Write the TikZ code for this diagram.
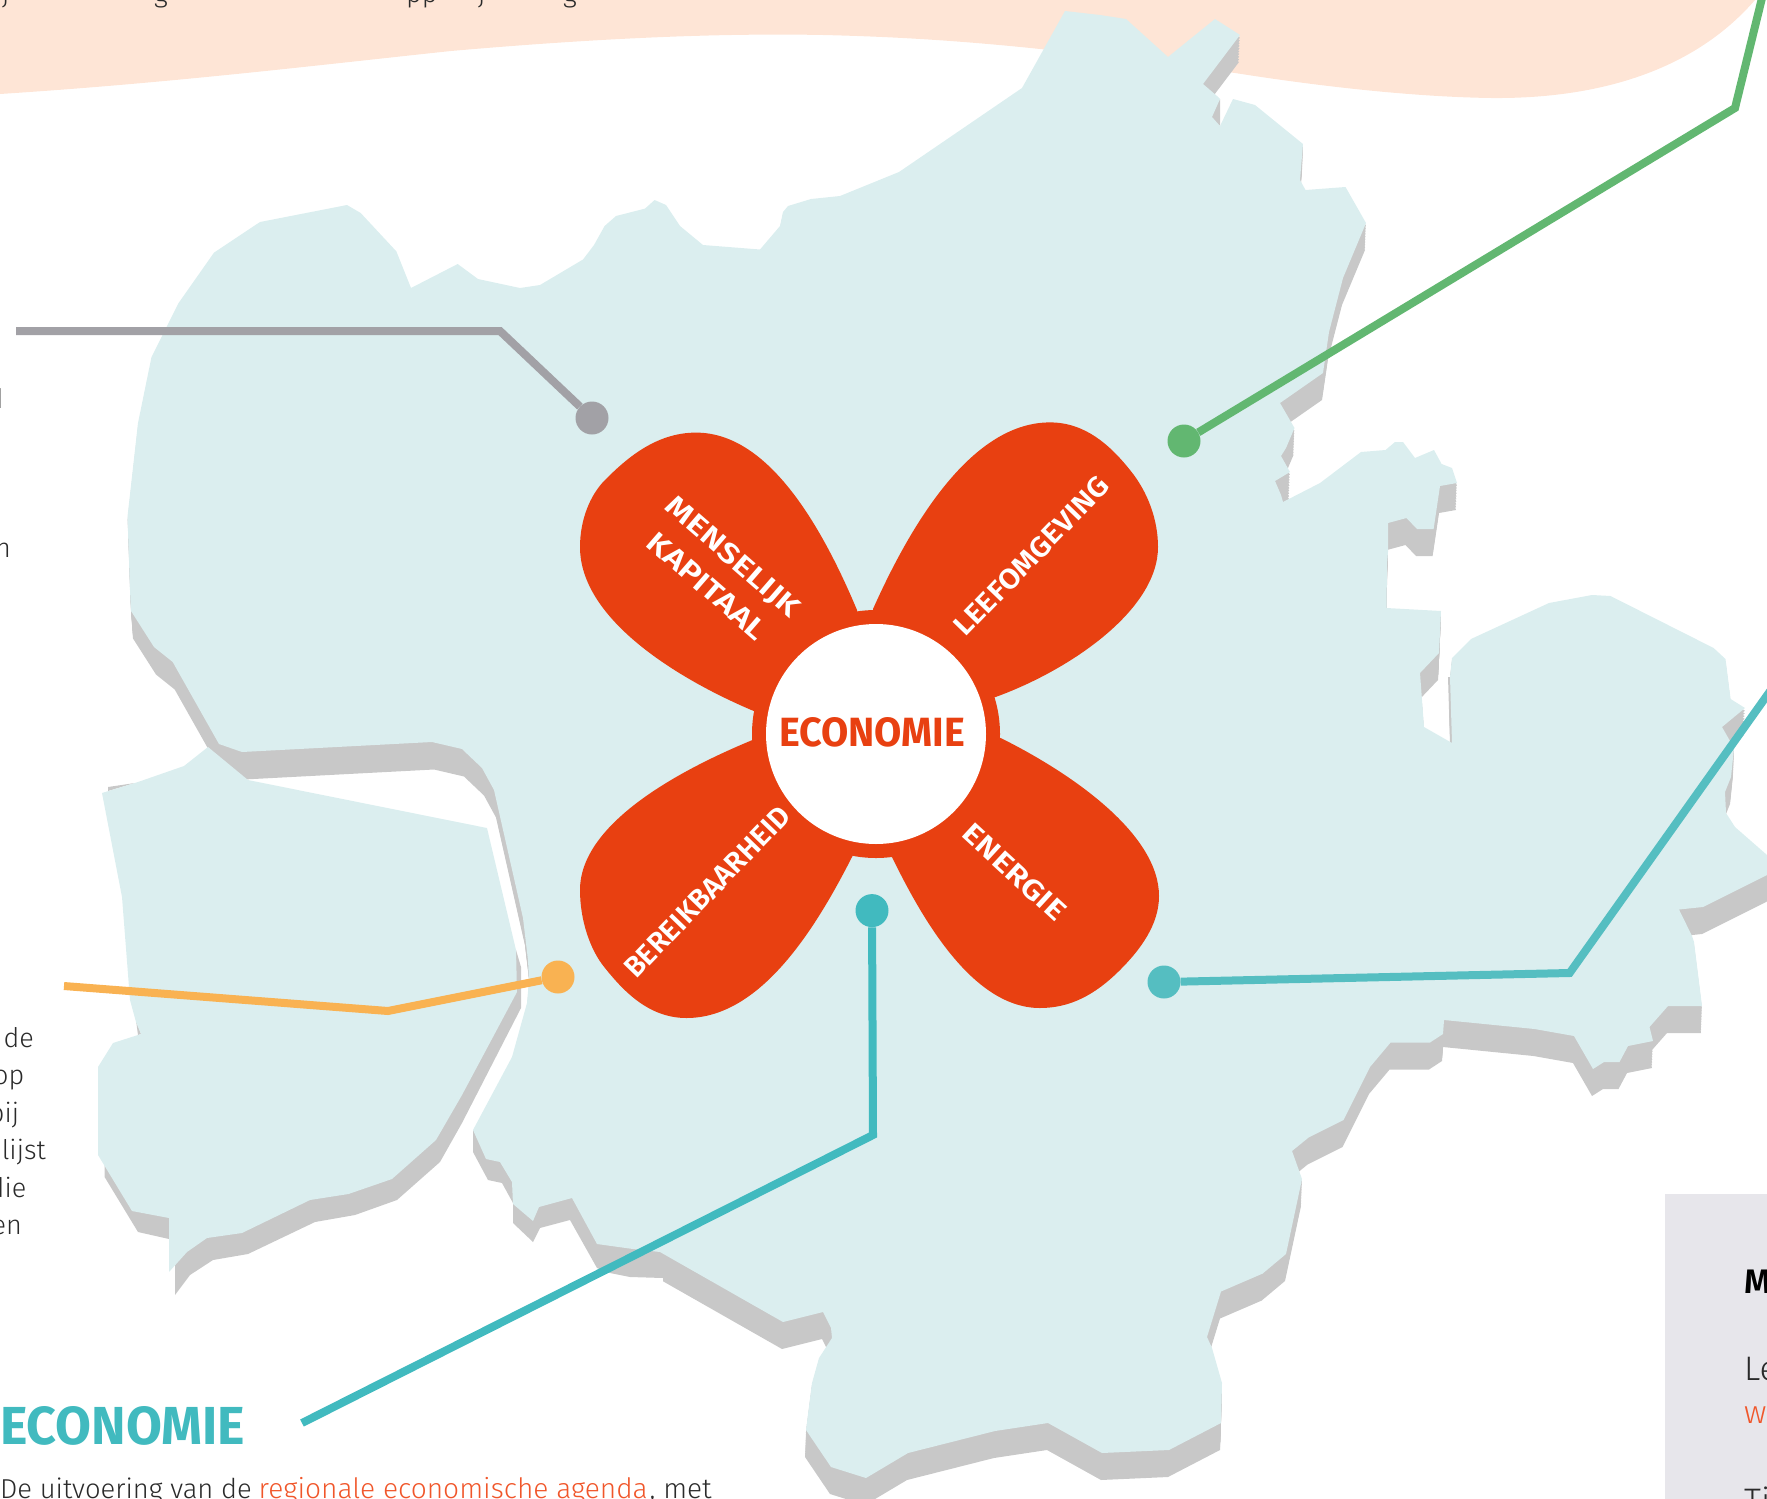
\documentclass[tikz,border=0pt]{standalone}
\usepackage{fontspec}
\usepackage{graphicx}
\setmainfont{Fira Sans Light}[BoldFont={Fira Sans SemiBold}]
\newfontfamily\headfont{Fira Sans Bold}
\definecolor{peachc}{HTML}{FEE5D6}
\definecolor{landc}{HTML}{DBEEEF}
\definecolor{shadowc}{HTML}{C8C8C8}
\definecolor{flowerc}{HTML}{E84011}
\definecolor{boxc}{HTML}{E7E6EB}
\definecolor{greyc}{HTML}{A2A1A6}
\definecolor{greenc}{HTML}{62B771}
\definecolor{tealc}{HTML}{41BABF}
\definecolor{teallc}{HTML}{55BEC1}
\definecolor{orangec}{HTML}{F9B252}
\definecolor{inkc}{HTML}{2A2A2A}
\definecolor{linkc}{HTML}{F0562A}
\newcommand{\mainland}{(1065,11) -- (1100,15) -- (1126,19) -- (1168,57) -- (1215,19) -- (1240,35) -- (1203,84) -- (1217,96) -- (1220,99) -- (1212,117) -- (1220,126) -- (1233,99) -- (1255,105) -- (1303,144) -- (1300,180) -- (1305.5,190) -- (1345.5,187) -- (1366,223) -- (1343,278) -- (1329,332) -- (1323,373) -- (1280,403) -- (1294.5,428) -- (1286,448) -- (1281,456) -- (1290,472) -- (1275,481) -- (1281,495) -- (1283,502) -- (1320,483) -- (1361,452) -- (1385.5,450) -- (1395,442) -- (1403,442) -- (1415,458) -- (1434,450) -- (1441.6,464) -- (1452,468) -- (1457,483) -- (1440,486) -- (1433.6,529) -- (1417,529) -- (1406.5,518) -- (1388,523) -- (1388,552) -- (1387,564) -- (1386.5,608) -- (1441,611) -- (1439,653) -- (1420,673) -- (1424,727) -- (1452,743) -- (1450,677) -- (1452,658) -- (1471,639) -- (1549,603) -- (1592,595) -- (1610.5,596) -- (1713.6,648) -- (1725.5,659) -- (1730.6,699) -- (1745,708) -- (1722,727) -- (1734,748) -- (1731,777) -- (1725,792) -- (1726,813) -- (1735,827) -- (1767,855) -- (1780,866) -- (1767,875) -- (1703,907) -- (1679,909.5) -- (1692,936) -- (1694,942) -- (1702,1006) -- (1668,1006) -- (1649.5,1027) -- (1653,1041) -- (1628,1046) -- (1619.5,1062) -- (1604,1062) -- (1593,1069) -- (1574,1036) -- (1534.5,1029) -- (1444,1020) -- (1443,1034) -- (1430,1042.5) -- (1390.6,1042.5) -- (1370,1067) -- (1343.6,1120) -- (1308.5,1137.6) -- (1292,1151) -- (1302,1179) -- (1286,1254) -- (1262.6,1273.6) -- (1221,1291.5) -- (1207,1337) -- (1212,1348) -- (1222,1383) -- (1221,1423) -- (1169,1450) -- (1102,1453) -- (1048,1423) -- (995,1431) -- (908,1453) -- (866,1478) -- (831,1467) -- (806,1430) -- (812,1383) -- (819,1358) -- (832,1338) -- (831,1328) -- (823,1312) -- (783,1322) -- (660,1252) -- (633,1249) -- (597,1244) -- (572,1198) -- (539,1207) -- (533,1221) -- (513,1204) -- (512,1182) -- (500,1162) -- (486,1159) -- (473,1130) -- (512,1057) -- (527,1003) -- (529,980) -- (528,960) -- (523,918) -- (494,790) -- (482,768) -- (462,749) -- (432,742) -- (242,752) -- (219,744) -- (172.7,662) -- (154,647) -- (131,611) -- (130,590) -- (127.5,516.6) -- (138,423) -- (151.5,357) -- (178.6,303) -- (214,252.6) -- (260,222) -- (347,205) -- (360.7,213) -- (396.4,251.4) -- (411,288) -- (457.7,264) -- (478,279) -- (520,288) -- (540,285) -- (583,259.5) -- (594,245) -- (604.6,226) -- (616,216) -- (645,208.6) -- (654.6,200) -- (666,205) -- (680,226) -- (703,245) -- (760,249.5) -- (780,226) -- (783,212) -- (788,206) -- (811,199) -- (840,196) -- (899,172) -- (1022,88) -- cycle}
\tikzset{
  landfill/.style={fill=landc,draw=none},
  shadowfill/.style={fill=shadowc,draw=none},
  petalfill/.style={fill=flowerc,draw=none},
  conn/.style={line width=8pt,miter limit=10},
  dotnode/.style={circle,minimum size=33pt,inner sep=0pt,draw=none},
  petaltext/.style={text=white,inner sep=0pt,font=\bfseries},
  bodytext/.style={text=inkc,inner sep=0pt,font=\fontsize{27}{32}\selectfont},
}
\begin{document}
\begin{tikzpicture}[x=1pt,y=-1pt]
\useasboundingbox (0,0) rectangle (1767,1499);
% peach band
\fill[peachc] (0,94) .. controls (170,83) and (310,66) .. (451,51) .. controls (600,38) and (720,33) .. (823,35) .. controls (950,38) and (1050,48) .. (1235,73) .. controls (1330,88) and (1420,97) .. (1491,98) .. controls (1590,99) and (1690,75) .. (1755,0) -- (0,0) -- cycle;
% grey box
\fill[boxc] (1665,1194) rectangle (1767,1499);
% shadows of the main land: the outline swept down
\begin{scope}
  \clip (0,0) rectangle (700,1000);
  \foreach \f in {0.1,0.2,...,1.0} {
    \fill[shadowfill,shift={(2*\f,27.5*\f)}] \mainland;
  }
\end{scope}
\begin{scope}
  \clip (700,0) -- (1767,0) -- (1767,1499) -- (663,1499) -- (663,1000) -- (700,1000) -- cycle;
  \foreach \f in {0.1,0.2,...,1.0} {
    \fill[shadowfill,shift={(-1*\f,27*\f)}] \mainland;
  }
\end{scope}
\fill[shadowfill] (473,1130) -- (473,1152) -- (488,1180) -- (502,1183) -- (513,1203) -- (513,1223) -- (533,1242) -- (540,1228) -- (570,1220) -- (597,1268) -- (610,1273) -- (630,1277) -- (663,1278) -- (663,1230) -- cycle;
\fill[shadowfill] (1379,569) -- (1379,583) -- (1387,585) -- (1387,564) -- cycle;
\fill[shadowfill] (1448,677) -- (1450,743) -- (1453,743) -- (1452,677) -- cycle;
\fill[shadowfill] (1212,117) -- (1220,99) -- (1220,126) -- cycle;
% shadow of the left island
\fill[shadowfill] (516,950) -- (521,967) -- (521,1008) -- (462,1123) -- (440,1162) -- (397,1200) -- (355,1215) -- (315,1222) -- (248,1254) -- (213,1260) -- (190,1275) -- (175,1295) -- (175,1250) -- (169,1239) -- (138,1232) -- (104.6,1177) -- (104.6,1150) -- cycle;
\fill[shadowfill] (108,787) -- (135,783) -- (108,791) -- cycle;
\fill[shadowfill] (136,1020) -- (141,1034) -- (138,1035) -- cycle;
% land
\fill[landfill] \mainland;
\fill[landfill] (102,793) -- (138,782) -- (184,766) -- (208,747) -- (248,780) -- (487,828) -- (516,950) -- (517,992) -- (462,1095) -- (436,1140) -- (392,1179) -- (348.5,1194) -- (310,1200) -- (242,1233) -- (207,1238) -- (187,1252) -- (169,1272) -- (169,1218) -- (132,1211) -- (98,1155) -- (98,1067) -- (113,1043) -- (141,1034) -- (136,1022) -- (130,1000) -- (129,987) -- (122,897) -- cycle;
% flower
\fill[petalfill] (857,610) .. controls (815,510) and (762,432.6) .. (696,432.6) .. controls (655,432.6) and (625,460) .. (605,480) .. controls (590,495) and (580,520) .. (580,547) .. controls (580,620) and (680,680) .. (753.7,711) -- (876,734) -- cycle;
\fill[petalfill] (873,609) .. controls (915,515) and (975,422.4) .. (1050,422.4) .. controls (1085,422.4) and (1110,445) .. (1130,470) .. controls (1148,492) and (1158,520) .. (1158,547) .. controls (1158,610) and (1070,670) .. (995.6,697) -- (876,734) -- cycle;
\fill[petalfill] (1000.7,738) .. controls (1075,775) and (1159,835) .. (1159,896) .. controls (1159,925) and (1140,950) .. (1120,970) .. controls (1095,995) and (1070,1008) .. (1040,1008) .. controls (975,1008) and (925,925) .. (892,857) -- (876,734) -- cycle;
\fill[petalfill] (852.5,856) .. controls (815,930) and (760,1018) .. (686.5,1018) .. controls (650,1018) and (625,993) .. (605,968) .. controls (590,950) and (580,920) .. (580,890) .. controls (580,825) and (675,772) .. (752.5,740) -- (876,734) -- cycle;
\node[circle,fill=flowerc,minimum size=248pt,inner sep=0pt,draw=none] (ring) at (876,734) {};
\node[circle,fill=white,minimum size=220pt,inner sep=0pt,draw=none] (hub) at (876,734) {};
\node[text=flowerc,inner sep=0pt,font=\headfont] (hubtext) at (872,732.5) {\resizebox{186pt}{29pt}{ECONOMIE}};
\node[petaltext,rotate=-41] (pm1) at (732,558) {\resizebox{168pt}{20pt}{MENSELIJK}};
\node[petaltext,rotate=-41] (pm2) at (707,586) {\resizebox{147pt}{20pt}{KAPITAAL}};
\node[petaltext,rotate=46] (pl) at (1031.5,556) {\resizebox{209pt}{20pt}{LEEFOMGEVING}};
\node[petaltext,rotate=46] (pb) at (707,892) {\resizebox{225pt}{20pt}{BEREIKBAARHEID}};
\node[petaltext,rotate=-42.6] (pe) at (1014.5,872) {\resizebox{129pt}{20pt}{ENERGIE}};
% connectors
\node[dotnode,fill=greyc] (dotgrey) at (592,418) {};
\coordinate (g1) at (500,331);
\coordinate (g2) at (16,331);
\draw[conn,greyc] (dotgrey) -- (g1) -- (g2);
\node[dotnode,fill=greenc] (dotgreen) at (1184,441) {};
\coordinate (n1) at (1735,108);
\coordinate (n2) at (1775,-55);
\draw[conn,greenc] (dotgreen) -- (n1) -- (n2);
\node[dotnode,fill=tealc] (dotteal) at (872,910.6) {};
\coordinate (t1) at (873,1135);
\coordinate (t2) at (302,1423);
\draw[conn,tealc] (dotteal) -- (t1) -- (t2);
\node[dotnode,fill=teallc] (dotteall) at (1164,982) {};
\coordinate (e1) at (1569.6,973);
\coordinate (e2) at (1800,649);
\draw[conn,teallc] (dotteall) -- (e1) -- (e2);
\node[dotnode,fill=orangec] (dotorange) at (558,977) {};
\coordinate (o1) at (388,1011);
\coordinate (o2) at (64,986);
\draw[conn,orangec] (dotorange) -- (o1) -- (o2);
% text
\node[text=tealc,inner sep=0pt,font=\headfont,anchor=west] (head) at (0,1426) {\resizebox{245pt}{38pt}{ECONOMIE}};
\node[bodytext,anchor=base west] (intro) at (0,1498) {\resizebox{251.5pt}{!}{De uitvoering van de}\hspace{7pt}\resizebox{389pt}{!}{\textcolor{linkc}{regionale economische agenda}}\hspace{2pt}\resizebox{62pt}{!}{, met}};
\node[bodytext,anchor=base east] (f1) at (3.5,408) {d};
\node[bodytext,anchor=base east] (f2) at (11,557) {n};
\node[bodytext,anchor=base east] (f3) at (34,1047) {de};
\node[bodytext,anchor=base east] (f4) at (24.5,1084.5) {op};
\node[bodytext,anchor=base east] (f5) at (19.4,1122) {bij};
\node[bodytext,anchor=base east] (f6) at (46,1159) {lijst};
\node[bodytext,anchor=base east] (f7) at (26.5,1197) {die};
\node[bodytext,anchor=base east] (f8) at (22,1234) {en};
\node[bodytext,anchor=base west] (top1) at (2,2) {j};
\node[bodytext,anchor=base west] (top2) at (154,2) {g};
\node[bodytext,anchor=base west] (top3) at (406,2) {pp};
\node[bodytext,anchor=base west] (top4) at (478,2) {j};
\node[bodytext,anchor=base west] (top5) at (563,2) {g};
\node[bodytext,anchor=base west,font=\bfseries\fontsize{34}{40}\selectfont,text=black] (box1) at (1744,1293) {M};
\node[bodytext,anchor=base west,font=\fontsize{34}{40}\selectfont] (box2) at (1744,1380) {Le};
\node[bodytext,anchor=base west,font=\fontsize{32}{40}\selectfont,text=linkc] (box3) at (1744,1423) {w};
\node[bodytext,anchor=base west,font=\fontsize{34}{40}\selectfont] (box4) at (1744,1512) {Ti};
\end{tikzpicture}
\end{document}
